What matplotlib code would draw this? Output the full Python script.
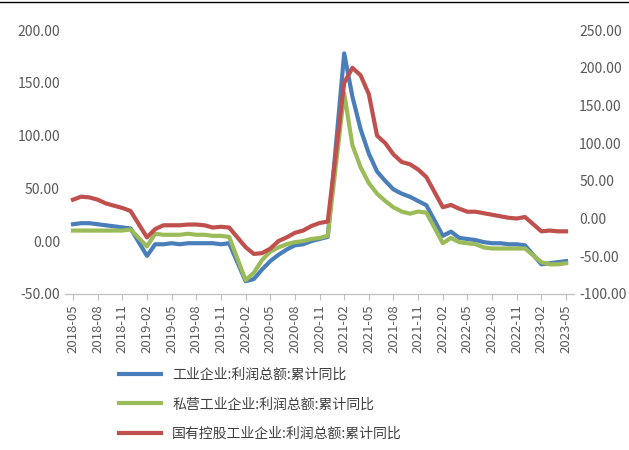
import matplotlib.pyplot as plt
import pandas as pd

plt.rcParams['font.family'] = ['Noto Sans CJK SC', 'DejaVu Sans']

months = [p for p in pd.period_range('2018-05', '2023-05', freq='M')]
tick_labels = [str(p) for p in months[::3]]
months = [p for p in months if p.month != 1]

industry = [16, 17, 17, 16, 15, 14, 13, 12,
            -14, -3, -3, -2, -3, -2, -2, -2, -2, -3, -2,
            -38, -36, -27, -19, -13, -8, -4, -3, 0, 2, 4,
            178, 137, 106, 83, 66, 57, 49, 45, 42, 38, 34,
            5, 9, 3, 2, 1, -1, -2, -2, -3, -3, -4,
            -22, -21, -20, -19]
private = [10, 10, 10, 10, 10, 10, 10, 11,
           -5, 7, 6, 6, 6, 7, 6, 6, 5, 5, 4,
           -37, -30, -18, -10, -6, -3, -1, 0, 2, 3, 5,
           140, 91, 70, 55, 45, 38, 32, 28, 26, 28, 27,
           -2, 3, -1, -2, -3, -6, -7, -7, -7, -7, -7,
           -20, -22, -22, -21]
state = [25, 29, 28, 25, 20, 17, 14, 10,
         -25, -14, -9, -9, -9, -8, -8, -9, -12, -11, -12,
         -38, -47, -46, -40, -30, -25, -19, -16, -10, -6, -4,
         180, 200, 190, 165, 110, 100, 85, 75, 72, 65, 55,
         15, 18, 13, 9, 9, 7, 5, 3, 1, 0, 2,
         -17, -16, -17, -17]

start = pd.Period('2018-05', freq='M')
x = [(p - start).n for p in months]

fig = plt.figure(figsize=(6.29, 4.5), dpi=100)
ax = fig.add_axes([0.103, 0.347, 0.81, 0.586])
ax2 = ax.twinx()

l1, = ax.plot(x, industry, color='#4a7ebb', lw=3)
l2, = ax.plot(x, private, color='#9bbb59', lw=3)
l3, = ax2.plot(x, state, color='#c0504d', lw=3)

ax.set_ylim(-50, 200)
ax.set_yticks(range(-50, 201, 50))
ax.set_yticklabels([f'{v:.2f}' for v in range(-50, 201, 50)])
ax2.set_ylim(-100, 250)
ax2.set_yticks(range(-100, 251, 50))
ax2.set_yticklabels([f'{v:.2f}' for v in range(-100, 251, 50)])
ax.set_xlim(-1, 61)
ax.set_xticks(range(0, 61, 3))
ax.set_xticklabels(tick_labels, rotation=90)

for a in (ax, ax2):
    for s in ('top', 'left', 'right'):
        a.spines[s].set_visible(False)
    a.spines['bottom'].set_color('#bfbfbf')
    a.tick_params(labelsize=10, colors='#595959', length=0)
ax.tick_params(axis='x', labelsize=9.5, length=4, color='#bfbfbf')

fig.legend([l1, l2, l3],
           ['工业企业:利润总额:累计同比', '私营工业企业:利润总额:累计同比',
            '国有控股工业企业:利润总额:累计同比'],
           loc='upper left', bbox_to_anchor=(0.17, 0.21), frameon=False,
           fontsize=10, labelspacing=1.1, handlelength=3, labelcolor='#404040')
fig.add_artist(plt.Line2D([0, 1], [0.995, 0.995], color='black', lw=1))
fig.savefig('out.png')
